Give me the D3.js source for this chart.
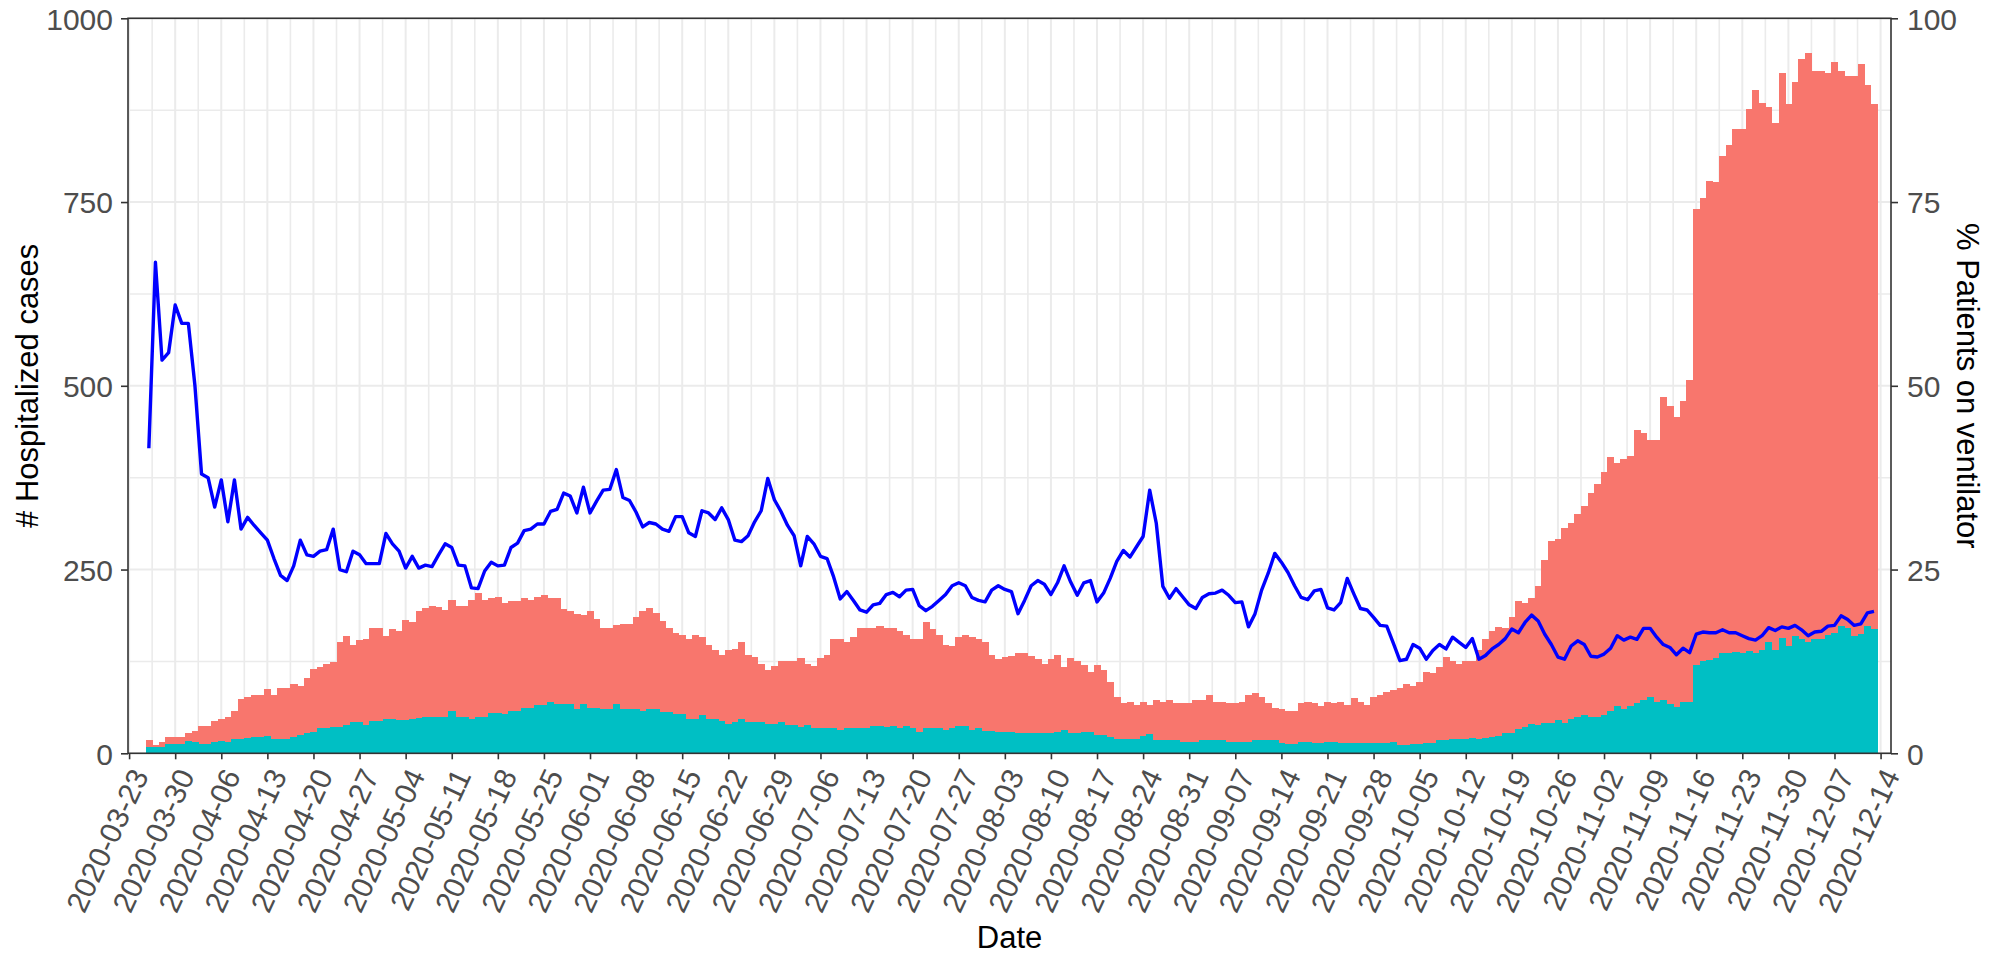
<!DOCTYPE html>
<html><head><meta charset="utf-8">
<script src="https://cdn.jsdelivr.net/npm/d3@7"></script>
<style>
body{margin:0;background:#fff}
svg{display:block}
text{font-family:"Liberation Sans",Arial,Helvetica,sans-serif}
</style>
</head><body>
<svg id="chart" width="2002" height="956"></svg>
<script>
// ---------------- data ----------------
const startDate = "2020-03-26";           // first daily record
const hospitalized = [
 18, 11, 15, 22, 22, 22, 28, 30, 37, 37,
 44, 47, 49, 57, 74, 77, 79, 79, 87, 80,
 89, 89, 94, 92,102,115,117,121,124,152,
160,148,154,156,170,170,159,169,166,181,
179,193,198,201,199,195,209,200,200,208,
218,209,211,213,204,207,207,211,208,213,
216,211,211,196,193,190,188,193,183,171,
171,174,176,176,185,193,198,191,180,171,
164,161,156,161,158,148,141,134,140,142,
151,134,131,121,114,119,126,126,126,130,
121,119,129,134,156,156,151,158,171,171,
171,173,171,171,166,161,156,156,178,169,
161,148,146,158,161,158,156,152,134,128,
131,133,136,136,132,128,122,128,134,117,
129,126,120,111,120,113, 97, 77, 69, 70,
 66, 70, 66, 72, 70, 72, 68, 68, 68, 73,
 73, 79, 70, 70, 68, 68, 70, 79, 82, 76,
 69, 61, 60, 57, 57, 68, 70, 68, 64, 70,
 68, 70, 66, 75, 70, 66, 77, 79, 84, 86,
 89, 94, 92, 97,111,109,117,131,126,122,
126,126,141,156,166,172,171,185,207,205,
211,228,263,289,291,307,314,326,336,354,
367,383,403,395,401,404,440,436,426,426,
485,473,458,480,508,740,756,779,777,812,
827,849,849,876,903,885,879,857,926,883,
913,945,953,928,928,925,940,928,921,921,
938,909,883];
const onVentilator = [
  8,  8,  8, 12, 12, 12, 17, 15, 12, 12,
 15, 17, 15, 20, 20, 21, 22, 22, 23, 20,
 20, 20, 22, 25, 27, 29, 34, 35, 36, 36,
 39, 42, 42, 39, 44, 44, 46, 46, 45, 45,
 47, 48, 50, 50, 50, 50, 57, 50, 50, 47,
 50, 50, 55, 55, 54, 58, 58, 62, 62, 66,
 66, 70, 67, 67, 67, 60, 67, 62, 62, 60,
 60, 67, 60, 60, 60, 58, 60, 60, 56, 56,
 54, 54, 47, 47, 52, 47, 46, 44, 40, 42,
 46, 42, 42, 42, 40, 40, 42, 39, 39, 36,
 38, 35, 35, 35, 34, 32, 34, 34, 34, 35,
 37, 37, 36, 37, 35, 37, 34, 29, 34, 35,
 35, 32, 35, 37, 37, 32, 34, 31, 30, 29,
 29, 29, 27, 28, 28, 28, 28, 27, 29, 32,
 28, 27, 29, 29, 25, 25, 22, 20, 20, 20,
 20, 23, 26, 18, 18, 18, 18, 16, 16, 16,
 18, 18, 18, 18, 16, 16, 16, 16, 18, 18,
 18, 18, 14, 13, 13, 16, 16, 14, 14, 16,
 16, 14, 14, 14, 14, 14, 14, 14, 14, 16,
 11, 11, 13, 13, 14, 14, 18, 18, 19, 20,
 20, 21, 20, 21, 22, 24, 27, 28, 33, 36,
 40, 38, 41, 41, 45, 41, 46, 50, 52, 50,
 50, 52, 57, 65, 60, 65, 68, 72, 76, 70,
 72, 67, 63, 70, 70,120,126,127,129,136,
137,138,136,139,137,141,152,140,157,146,
160,156,152,155,156,161,163,173,170,160,
162,173,169];
const pctVentilator = [
41.5,66.8,53.5,54.5,61.0,58.5,58.5,50.0,38.0,37.5,
33.5,37.2,31.5,37.2,30.5,32.1,31.0,30.0,29.0,26.5,
24.2,23.5,25.5,29.0,27.0,26.8,27.5,27.7,30.5,25.0,
24.7,27.5,27.0,25.8,25.8,25.8,29.9,28.5,27.5,25.2,
26.8,25.2,25.6,25.4,27.0,28.5,28.0,25.6,25.5,22.5,
22.4,24.8,26.0,25.5,25.6,28.0,28.6,30.3,30.5,31.2,
31.2,32.9,33.2,35.4,35.0,32.7,36.2,32.7,34.3,35.8,
35.9,38.6,34.8,34.4,32.8,30.8,31.4,31.2,30.5,30.2,
32.2,32.2,30.0,29.5,33.0,32.7,31.8,33.4,31.8,29.0,
28.8,29.6,31.5,33.0,37.4,34.5,32.9,31.0,29.6,25.5,
29.5,28.5,26.8,26.5,24.0,21.0,22.0,20.8,19.5,19.2,
20.2,20.4,21.6,21.9,21.3,22.2,22.3,20.1,19.4,20.0,
20.8,21.6,22.8,23.2,22.8,21.2,20.8,20.6,22.2,22.8,
22.3,22.0,19.0,20.8,22.8,23.5,23.0,21.6,23.2,25.5,
23.3,21.5,23.2,23.5,20.6,21.8,23.8,26.1,27.6,26.7,
28.1,29.5,35.8,31.3,22.7,21.1,22.4,21.3,20.2,19.7,
21.2,21.7,21.8,22.2,21.5,20.5,20.6,17.2,19.0,22.2,
24.5,27.2,26.0,24.6,22.8,21.2,20.9,22.1,22.3,19.8,
19.5,20.5,23.8,21.7,19.7,19.5,18.5,17.4,17.3,15.0,
12.6,12.8,14.8,14.3,12.8,14.0,14.8,14.2,15.8,15.1,
14.4,15.6,12.8,13.3,14.2,14.8,15.6,16.9,16.4,17.8,
18.8,18.0,16.2,14.8,13.1,12.8,14.6,15.3,14.8,13.2,
13.1,13.5,14.3,16.0,15.4,15.8,15.5,17.0,17.0,15.8,
14.8,14.4,13.4,14.3,13.7,16.2,16.5,16.4,16.4,16.8,
16.4,16.4,16.0,15.6,15.4,16.0,17.1,16.7,17.2,17.0,
17.4,16.8,16.0,16.5,16.6,17.3,17.4,18.7,18.2,17.4,
17.6,19.1,19.3];
const xTickFirst = "2020-03-23";
const xTickLast  = "2020-12-14";
const leftTicks  = [0, 250, 500, 750, 1000];
const leftMinor  = [125, 375, 625, 875];
const rightTicks = [0, 25, 50, 75, 100];
const xTitle = "Date";
const yLeftTitle = "# Hospitalized cases";
const yRightTitle = "% Patients on ventilator";

// ---------------- layout ----------------
const P = {left:128, right:1891, top:18.3, bottom:753.3};
const svg = d3.select("#chart");
const parse = d3.utcParse("%Y-%m-%d");
const start = parse(startDate);
const rows = hospitalized.map((h,i)=>({
  date: d3.utcDay.offset(start,i), hosp:h, vent:onVentilator[i], pct:pctVentilator[i]
}));

const x = d3.scaleUtc()
  .domain([d3.utcHour.offset(parse(xTickFirst), -4), d3.utcHour.offset(parse(xTickLast), 38)])
  .range([P.left, P.right]);
const yL = d3.scaleLinear().domain([0,1000]).range([P.bottom, P.top]);
const yR = d3.scaleLinear().domain([0,100]).range([P.bottom, P.top]);

const weekTicks = x.ticks(d3.utcMonday.every(1));
const minorX = weekTicks.map(t=>d3.utcHour.offset(t, 84)).filter(t=>x(t)<P.right && x(t)>P.left);

// grid
const grid = svg.append("g");
grid.selectAll(".hmin").data(leftMinor).join("line")
  .attr("x1",P.left).attr("x2",P.right).attr("y1",d=>yL(d)).attr("y2",d=>yL(d))
  .attr("stroke","#EBEBEB").attr("stroke-width",1.6);
grid.selectAll(".vmin").data(minorX).join("line")
  .attr("y1",P.top).attr("y2",P.bottom).attr("x1",d=>x(d)).attr("x2",d=>x(d))
  .attr("stroke","#EBEBEB").attr("stroke-width",1.6);
grid.selectAll(".hmaj").data(leftTicks).join("line")
  .attr("x1",P.left).attr("x2",P.right).attr("y1",d=>yL(d)).attr("y2",d=>yL(d))
  .attr("stroke","#EBEBEB").attr("stroke-width",2);
grid.selectAll(".vmaj").data(weekTicks).join("line")
  .attr("y1",P.top).attr("y2",P.bottom).attr("x1",d=>x(d)).attr("x2",d=>x(d))
  .attr("stroke","#EBEBEB").attr("stroke-width",2);

// bars
const bx0 = d=>x(d3.utcHour.offset(d.date,-12));
const bx1 = d=>x(d3.utcHour.offset(d.date,12));
svg.append("g").attr("shape-rendering","crispEdges")
  .selectAll("rect").data(rows).join("rect")
  .attr("x",bx0).attr("width",d=>bx1(d)-bx0(d)+0.5)
  .attr("y",d=>yL(d.hosp)).attr("height",d=>yL(0)-yL(d.hosp))
  .attr("fill","#F8766D");
svg.append("g").attr("shape-rendering","crispEdges")
  .selectAll("rect").data(rows).join("rect")
  .attr("x",bx0).attr("width",d=>bx1(d)-bx0(d)+0.5)
  .attr("y",d=>yL(d.vent)).attr("height",d=>yL(0)-yL(d.vent))
  .attr("fill","#00BFC4");

// line
svg.append("path").datum(rows)
  .attr("d", d3.line().x(d=>x(d.date)).y(d=>yR(d.pct)))
  .attr("fill","none").attr("stroke","#0000FF").attr("stroke-width",3.4)
  .attr("stroke-linejoin","round");

// panel border
svg.append("rect").attr("x",P.left).attr("y",P.top)
  .attr("width",P.right-P.left).attr("height",P.bottom-P.top)
  .attr("fill","none").attr("stroke","#333333").attr("stroke-width",1.6);

// axes
const tickFont = "30px";
const gL = svg.append("g").attr("transform",`translate(${P.left},0)`)
  .call(d3.axisLeft(yL).tickValues(leftTicks).tickFormat(d3.format("d")).tickSize(7).tickPadding(8));
gL.select(".domain").remove();
gL.selectAll("line").attr("stroke","#333333").attr("stroke-width",1.6);
gL.selectAll("text").attr("fill","#4D4D4D").style("font-size",tickFont).attr("dy","0.36em");

const gR = svg.append("g").attr("transform",`translate(${P.right},0)`)
  .call(d3.axisRight(yR).tickValues(rightTicks).tickFormat(d3.format("d")).tickSize(7).tickPadding(9));
gR.select(".domain").remove();
gR.selectAll("line").attr("stroke","#333333").attr("stroke-width",1.6);
gR.selectAll("text").attr("fill","#4D4D4D").style("font-size",tickFont).attr("dy","0.36em");

const gX = svg.append("g").attr("transform",`translate(0,${P.bottom})`)
  .call(d3.axisBottom(x).tickValues(weekTicks).tickFormat(d3.utcFormat("%Y-%m-%d")).tickSize(6).tickPadding(6));
gX.select(".domain").remove();
gX.selectAll("line").attr("stroke","#333333").attr("stroke-width",1.6);
gX.selectAll("text")
  .attr("fill","#4D4D4D").style("font-size",tickFont)
  .attr("text-anchor","end").attr("x",0).attr("y",0).attr("dy","0.72em")
  .attr("transform","translate(0,13) rotate(-65)");

// titles
svg.append("text").attr("x",(P.left+P.right)/2).attr("y",948)
  .attr("text-anchor","middle").style("font-size","31px").attr("fill","#000").text(xTitle);
svg.append("text").attr("transform",`translate(27,${(P.top+P.bottom)/2}) rotate(-90)`)
  .attr("text-anchor","middle").attr("dy","0.36em").style("font-size","31px").attr("fill","#000").text(yLeftTitle);
svg.append("text").attr("transform",`translate(1968,${(P.top+P.bottom)/2}) rotate(90)`)
  .attr("text-anchor","middle").attr("dy","0.36em").style("font-size","31px").attr("fill","#000").text(yRightTitle);
</script>
</body></html>
